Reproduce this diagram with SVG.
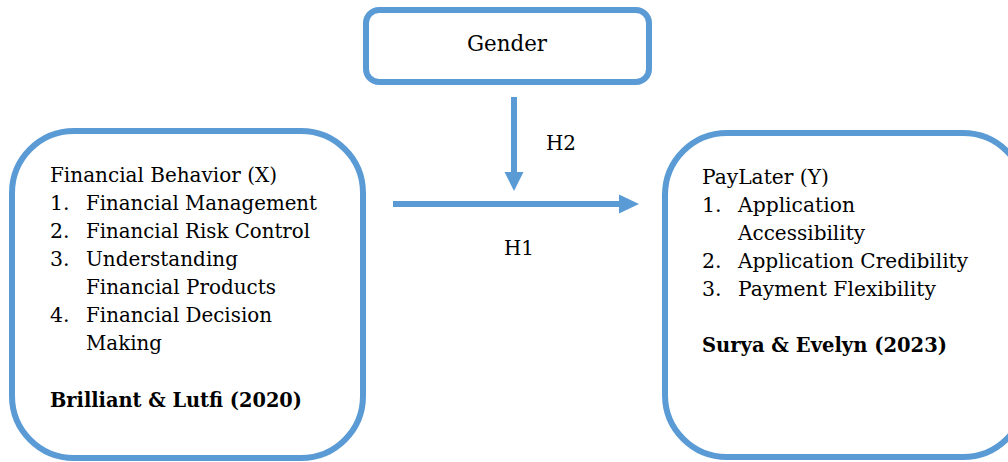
<svg xmlns="http://www.w3.org/2000/svg" width="1008" height="462" viewBox="0 0 1008 462">
<style>
.box{fill:#fff;stroke:#5B9BD5;stroke-width:6}
.t{font-family:"DejaVu Serif","Liberation Serif",serif;font-size:20.5px;fill:#000}
.b{font-weight:bold}
.c{stroke:#5B9BD5;stroke-width:6;fill:none}
.ah{fill:#5B9BD5}
</style>
<rect width="1008" height="462" fill="#fff"/>
<g id="gender">
<rect class="box" x="366" y="10" width="283" height="72" rx="13"/>
<text class="t" x="507" y="51" text-anchor="middle" style="font-size:23px" textLength="80" lengthAdjust="spacingAndGlyphs">Gender</text>
</g>
<g id="financial-behavior">
<rect class="box" x="12" y="131" width="351" height="327" rx="62"/>
<text class="t" x="50" y="182" textLength="227" lengthAdjust="spacingAndGlyphs">Financial Behavior (X)</text>
<text class="t" x="50" y="210">1.</text>
<text class="t" x="86" y="210" textLength="231" lengthAdjust="spacingAndGlyphs">Financial Management</text>
<text class="t" x="50" y="238">2.</text>
<text class="t" x="86" y="238" textLength="224" lengthAdjust="spacingAndGlyphs">Financial Risk Control</text>
<text class="t" x="50" y="266">3.</text>
<text class="t" x="86" y="266" textLength="152" lengthAdjust="spacingAndGlyphs">Understanding</text>
<text class="t" x="86" y="294" textLength="190" lengthAdjust="spacingAndGlyphs">Financial Products</text>
<text class="t" x="50" y="322">4.</text>
<text class="t" x="86" y="322" textLength="186" lengthAdjust="spacingAndGlyphs">Financial Decision</text>
<text class="t" x="86" y="350" textLength="76" lengthAdjust="spacingAndGlyphs">Making</text>
<text class="t b" x="50" y="407" textLength="252" lengthAdjust="spacingAndGlyphs">Brilliant &amp; Lutfi (2020)</text>
</g>
<g id="paylater">
<rect class="box" x="665" y="133" width="360" height="324" rx="62"/>
<text class="t" x="702" y="184" textLength="127" lengthAdjust="spacingAndGlyphs">PayLater (Y)</text>
<text class="t" x="702" y="212">1.</text>
<text class="t" x="738" y="212" textLength="117" lengthAdjust="spacingAndGlyphs">Application</text>
<text class="t" x="738" y="240" textLength="127" lengthAdjust="spacingAndGlyphs">Accessibility</text>
<text class="t" x="702" y="268">2.</text>
<text class="t" x="738" y="268" textLength="230" lengthAdjust="spacingAndGlyphs">Application Credibility</text>
<text class="t" x="702" y="296">3.</text>
<text class="t" x="738" y="296" textLength="198" lengthAdjust="spacingAndGlyphs">Payment Flexibility</text>
<text class="t b" x="702" y="352" textLength="245" lengthAdjust="spacingAndGlyphs">Surya &amp; Evelyn (2023)</text>
</g>
<g id="connectors">
<line class="c" x1="514" y1="97" x2="514" y2="173"/>
<polygon class="ah" points="504.5,172 523.5,172 514,191"/>
<line class="c" x1="393" y1="204" x2="620" y2="204"/>
<polygon class="ah" points="619,194.5 619,213.5 639,204"/>
<text class="t" x="546" y="150" textLength="30" lengthAdjust="spacingAndGlyphs">H2</text>
<text class="t" x="504" y="255" textLength="30" lengthAdjust="spacingAndGlyphs">H1</text>
</g>
</svg>
